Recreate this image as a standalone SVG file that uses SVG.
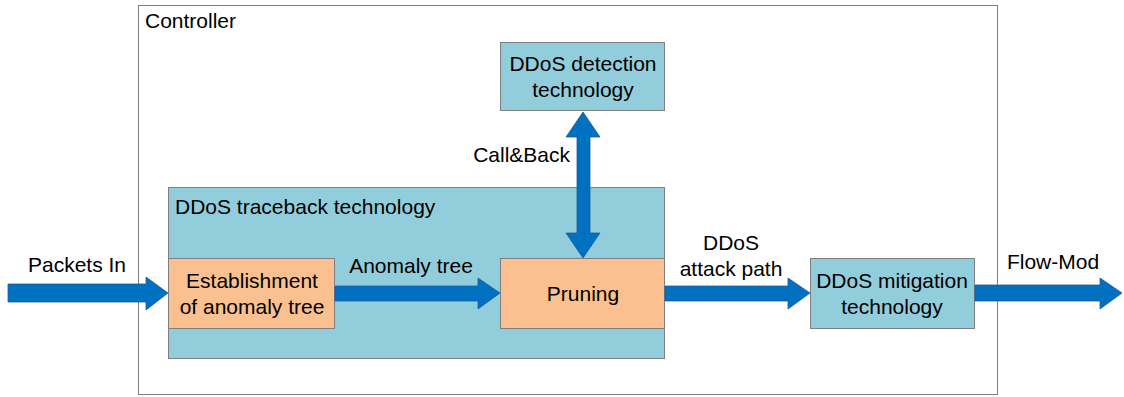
<svg xmlns="http://www.w3.org/2000/svg" width="1124" height="397" viewBox="0 0 1124 397">
<style>
.t{font-family:"Liberation Sans",Arial,sans-serif;font-size:21px;fill:#000}
.c{text-anchor:middle}
.blue{fill:#92CDDC;stroke:#7F7F7F;stroke-width:1}
.org{fill:#FAC090;stroke:#7F7F7F;stroke-width:1}
.arr{fill:#0070C0;stroke:#1F5C99;stroke-width:0.8}
</style>
<rect width="1124" height="397" fill="#fff"/>
<g id="controller">
<rect x="138.5" y="5.5" width="859" height="389" fill="#fff" stroke="#7F7F7F"/>
<text class="t" x="145" y="28">Controller</text>
</g>
<g id="traceback">
<rect class="blue" x="168.5" y="187.5" width="496" height="171"/>
<text class="t" x="175" y="214">DDoS traceback technology</text>
</g>
<g id="detection">
<rect class="blue" x="500.5" y="42.5" width="164" height="68"/>
<text class="t c" x="583" y="71">DDoS detection</text>
<text class="t c" x="583" y="97">technology</text>
</g>
<g id="establishment">
<rect class="org" x="168.5" y="258.5" width="166" height="70"/>
<text class="t c" x="252" y="288">Establishment</text>
<text class="t c" x="252" y="314">of anomaly tree</text>
</g>
<g id="pruning">
<rect class="org" x="500.5" y="258.5" width="164" height="70"/>
<text class="t c" x="583" y="301">Pruning</text>
</g>
<g id="mitigation">
<rect class="blue" x="810.5" y="258.5" width="164" height="70"/>
<text class="t c" x="892" y="288">DDoS mitigation</text>
<text class="t c" x="892" y="314">technology</text>
</g>
<g id="connectors">
<polygon class="arr" points="8,284 146,284 146,277 168,293 146,310 146,302 8,302"/>
<polygon class="arr" points="335,286 478,286 478,278 500,293 478,309 478,301 335,301"/>
<polygon class="arr" points="665,286 788,286 788,278 810,293 788,309 788,301 665,301"/>
<polygon class="arr" points="975,285 1100,285 1100,278 1122,293 1100,309 1100,301 975,301"/>
<polygon class="arr" points="583,112 600,137 590,137 590,233 600,233 583,258 566,233 577,233 577,137 566,137"/>
</g>
<g id="labels">
<text class="t c" x="77" y="272">Packets In</text>
<text class="t c" x="411" y="273">Anomaly tree</text>
<text class="t" x="570" y="162" text-anchor="end">Call&amp;Back</text>
<text class="t c" x="731" y="250">DDoS</text>
<text class="t c" x="731" y="276">attack path</text>
<text class="t c" x="1053" y="269">Flow-Mod</text>
</g>
</svg>
